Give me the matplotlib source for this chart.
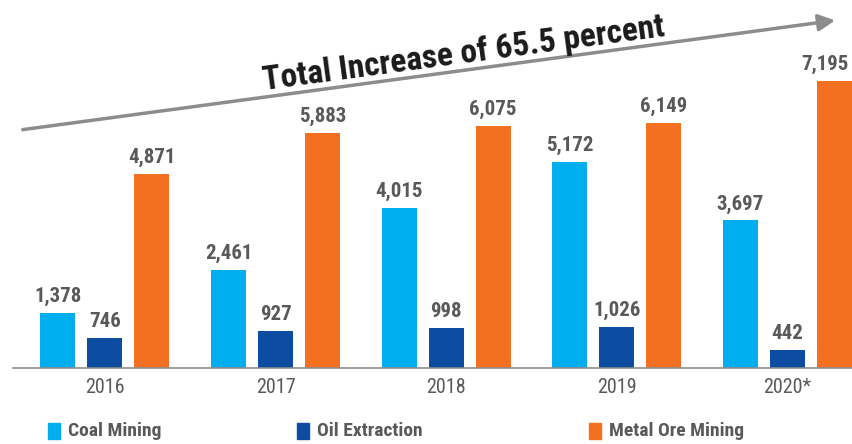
import numpy as np
import matplotlib.pyplot as plt

plt.rcParams['font.family'] = ['Liberation Sans Narrow', 'DejaVu Sans Condensed',
                               'Roboto Condensed', 'Open Sans Condensed',
                               'Liberation Sans', 'DejaVu Sans']

years = ['2016', '2017', '2018', '2019', '2020*']
coal = [1378, 2461, 4015, 5172, 3697]
oil = [746, 927, 998, 1026, 442]
metal = [4871, 5883, 6075, 6149, 7195]

series = [('Coal Mining', coal, '#00AEEF'),
          ('Oil Extraction', oil, '#0D4DA1'),
          ('Metal Ore Mining', metal, '#F37021')]

W, H = 852, 444
fig = plt.figure(figsize=(W / 100, H / 100), dpi=100)
ax = fig.add_axes([0, 76 / H, 1, 368 / H])

x = np.arange(len(years))
step = 170.6
pitch = 47 / step
width = 35 / step
for i, (name, vals, col) in enumerate(series):
    pos = x + (i - 1) * pitch
    bars = ax.bar(pos, vals, width=width, color=col)
    for j, (b, v) in enumerate(zip(bars, vals)):
        dx = -7 if (i == 2 and j == len(vals) - 1) else 0
        ax.annotate(f'{v:,}', (b.get_x() + b.get_width() / 2, v),
                    xytext=(dx, 5), textcoords='offset points',
                    ha='center', va='bottom', fontsize=15, fontweight='bold',
                    color='#595959')

ax.set_xlim(-105 / step, (W - 105) / step)
ax.set_ylim(0, 368 / 0.0399)
for s in ['top', 'right', 'left']:
    ax.spines[s].set_visible(False)
ax.spines['bottom'].set_color('#8c8c8c')
ax.spines['bottom'].set_linewidth(1.2)
ax.spines['bottom'].set_bounds((13 - 105) / step, (W - 105) / step)
ax.set_yticks([])
ax.set_xticks(x)
ax.set_xticklabels(years, fontsize=14.5, color='#595959')
ax.tick_params(axis='x', length=0, pad=7)
ax.patch.set_alpha(0)

# trend arrow and title
fig.patches.append(plt.matplotlib.patches.FancyArrowPatch(
    (20 / W, 1 - 130 / H), (838 / W, 1 - 20 / H), transform=fig.transFigure,
    arrowstyle='-|>,head_length=10,head_width=5', color='#8c8c8c',
    linewidth=2.5, mutation_scale=1))
ang = np.degrees(np.arctan2(110, 818))
fig.text(464 / W, 1 - 54 / H, 'Total Increase of 65.5 percent', rotation=ang,
         rotation_mode='anchor', ha='center', va='center', fontsize=24,
         fontweight='bold', color='#1a1a1a')

# legend
for (name, vals, col), lx in zip(series, [48, 297, 589]):
    fig.patches.append(plt.Rectangle((lx / W, 1 - 439 / H), 12 / W, 16 / H,
                                     transform=fig.transFigure, color=col))
    fig.text((lx + 20) / W, 1 - 431 / H, name, ha='left', va='center',
             fontsize=14, fontweight='bold', color='#595959')

fig.savefig('out.png', dpi=100)
